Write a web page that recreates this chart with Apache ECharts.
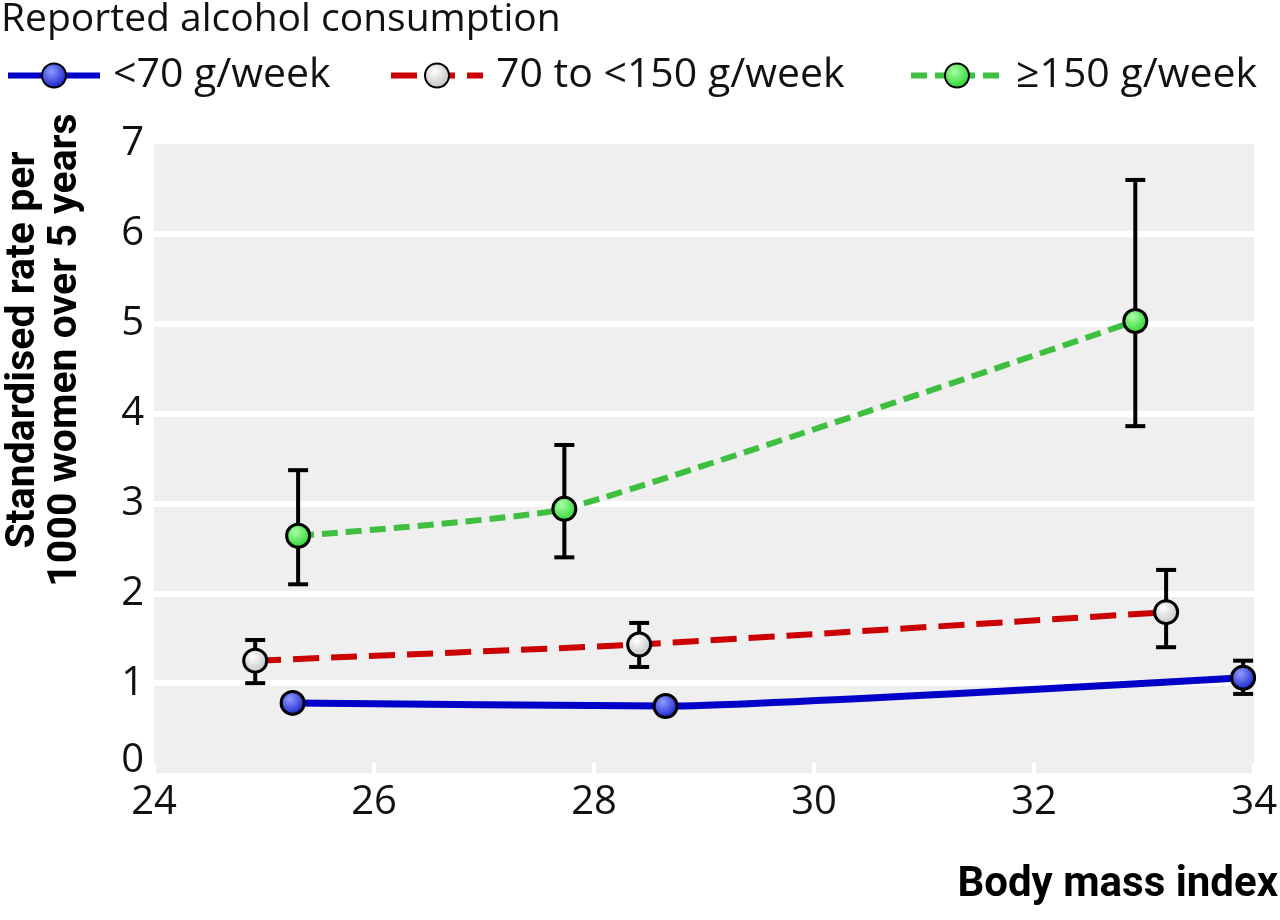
<html>
<head>
<meta charset="utf-8">
<title>Alcohol consumption by BMI</title>
<script src="https://cdn.jsdelivr.net/npm/echarts@6/dist/echarts.min.js"></script>
</head>
<body style="margin:0;background:#fff">
<div id="main" style="width:1280px;height:920px;"></div>
<script type="text/javascript">
// values: [body mass index, rate]
var seriesNames = ['<70 g/week', '70 to <150 g/week', '\u2265150 g/week'];
var lowBmi = [25.26, 28.65, 33.9];
var lowRate = [0.78, 0.745, 1.06];
var lowLo = [0.71, 0.68, 0.88];
var lowHi = [0.85, 0.81, 1.25];
var midBmi = [24.92, 28.41, 33.2];
var midRate = [1.25, 1.43, 1.79];
var midLo = [1.0, 1.18, 1.40];
var midHi = [1.48, 1.67, 2.26];
var highBmi = [25.31, 27.73, 32.92];
var highRate = [2.64, 2.94, 5.03];
var highLo = [2.10, 2.40, 3.86];
var highHi = [3.37, 3.65, 6.60];
var yTitle = 'Standardised rate per\n1000 women over 5 years';
var xTitle = 'Body mass index';

function pts(xs, ys) {
    return xs.map(function (x, i) { return [x, ys[i]]; });
}
function bars(xs, lo, hi) {
    return xs.map(function (x, i) { return [x, lo[i], hi[i]]; });
}
function ball(inner, outer) {
    return {
        type: 'radial', x: 0.4, y: 0.35, r: 0.7,
        colorStops: [{offset: 0, color: inner}, {offset: 1, color: outer}]
    };
}

var myChart = echarts.init(document.getElementById('main'));

var fontMain = '"Open Sans", sans-serif';

function errorSeries(data) {
    return {
        type: 'custom',
        z: 1,
        silent: true,
        data: data,
        encode: {x: 0, y: [1, 2]},
        renderItem: function (params, api) {
            var top = api.coord([api.value(0), api.value(2)]);
            var bot = api.coord([api.value(0), api.value(1)]);
            var w = 10;
            var st = {stroke: '#000', lineWidth: 4};
            return {
                type: 'group',
                children: [
                    {type: 'line', shape: {x1: top[0], y1: top[1], x2: bot[0], y2: bot[1]}, style: st},
                    {type: 'line', shape: {x1: top[0] - w, y1: top[1], x2: top[0] + w, y2: top[1]}, style: st},
                    {type: 'line', shape: {x1: bot[0] - w, y1: bot[1], x2: bot[0] + w, y2: bot[1]}, style: st}
                ]
            };
        }
    };
}

function legendAt(name, left) {
    return {
        data: [name],
        left: left,
        top: 50,
        itemWidth: 92,
        itemHeight: 30,
        selectedMode: false,
        lineStyle: {width: 6},
        textStyle: {fontSize: 41, fontFamily: fontMain, color: '#111', padding: [0, 0, 0, 8]}
    };
}

var option = {
    backgroundColor: '#fff',
    animation: false,
    title: {
        text: 'Reported alcohol consumption',
        left: -4, top: -5,
        textStyle: {fontSize: 39, fontWeight: 'normal', fontFamily: fontMain, color: '#111'}
    },
    legend: [
        legendAt(seriesNames[0], 0),
        legendAt(seriesNames[1], 383),
        legendAt(seriesNames[2], 903)
    ],
    grid: {
        left: 154, right: 23, top: 144, bottom: 147,
        show: true, backgroundColor: '#efefef', borderWidth: 0
    },
    xAxis: {
        type: 'value',
        min: 24, max: 34, interval: 2,
        axisLine: {show: false},
        axisTick: {show: true, inside: true, length: 10, lineStyle: {color: '#fff', width: 4}},
        splitLine: {show: false},
        axisLabel: {fontSize: 40, fontFamily: fontMain, color: '#111', margin: 10}
    },
    yAxis: {
        type: 'value',
        min: 0, max: 7, interval: 1,
        axisLine: {show: false},
        axisTick: {show: false},
        splitLine: {show: true, showMinLine: false, showMaxLine: false, lineStyle: {color: '#fff', width: 6}},
        axisLabel: {
            fontSize: 40, fontFamily: fontMain, color: '#111', margin: 10,
            formatter: function (v) { return v === 0 ? '{z|0}' : String(v); },
            rich: {z: {fontSize: 40, fontFamily: fontMain, color: '#111', padding: [0, 0, 24, 0]}}
        }
    },
    graphic: [
        {
            type: 'text', x: 45, y: 350, rotation: Math.PI / 2,
            style: {
                text: yTitle, fontSize: 41, fontWeight: 'bold', fontFamily: 'Roboto, sans-serif',
                fill: '#000', align: 'center', verticalAlign: 'middle', lineHeight: 42
            }
        },
        {
            type: 'text', right: 2, top: 864,
            style: {
                text: xTitle, fontSize: 42, fontWeight: 'bold', fontFamily: 'Roboto, sans-serif', fill: '#000'
            }
        }
    ],
    series: [
        errorSeries(bars(lowBmi, lowLo, lowHi)),
        errorSeries(bars(midBmi, midLo, midHi)),
        errorSeries(bars(highBmi, highLo, highHi)),
        {
            name: seriesNames[0], type: 'line', z: 3, smooth: 0.15,
            data: pts(lowBmi, lowRate),
            symbol: 'circle', symbolSize: 23,
            lineStyle: {color: '#0000c8', width: 7},
            itemStyle: {color: ball('#8f9bff', '#0a14c8'), borderColor: '#000', borderWidth: 3}
        },
        {
            name: seriesNames[1], type: 'line', z: 3, smooth: 0.15,
            data: pts(midBmi, midRate),
            symbol: 'circle', symbolSize: 23,
            lineStyle: {color: '#cc0000', width: 6, type: [26, 12]},
            itemStyle: {color: ball('#ffffff', '#bcbcbc'), borderColor: '#000', borderWidth: 3}
        },
        {
            name: seriesNames[2], type: 'line', z: 3, smooth: 0.15,
            data: pts(highBmi, highRate),
            symbol: 'circle', symbolSize: 23,
            lineStyle: {color: '#3fbf3f', width: 6, type: [16, 8]},
            itemStyle: {color: ball('#a8ffa8', '#1ecf1e'), borderColor: '#000', borderWidth: 3}
        }
    ]
};
myChart.setOption(option);
</script>
</body>
</html>
